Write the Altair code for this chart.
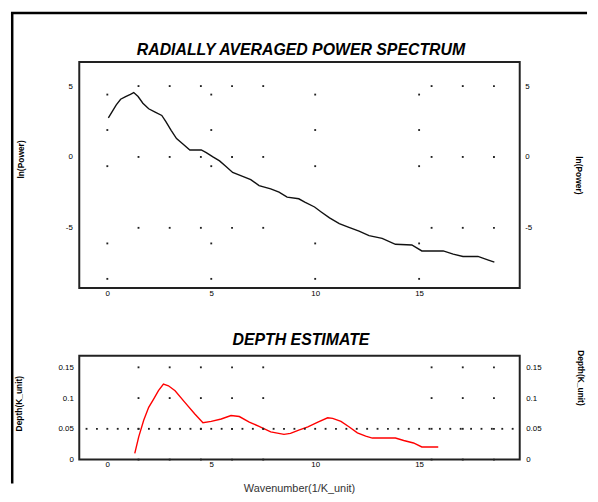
import altair as alt
import pandas as pd

FONT = "Liberation Sans"

# ---- data ----
# Radially averaged power spectrum: wavenumber vs ln(Power)
PS_K = [0.05, 0.24, 0.43, 0.64, 0.88, 1.11, 1.27, 1.48, 1.71, 1.99, 2.30, 2.62, 2.81,
        3.07, 3.33, 3.65, 3.97, 4.52, 4.76, 5.08, 5.40, 5.71, 6.03, 6.51, 6.90, 7.30,
        7.86, 8.26, 8.65, 9.21, 9.50, 9.97, 10.29, 10.69, 11.16, 11.56, 12.11, 12.59,
        13.22, 13.86, 14.65, 15.13, 16.16, 16.64, 17.11, 17.83, 18.30, 18.62]
PS_LNP = [2.75, 3.21, 3.68, 4.07, 4.26, 4.42, 4.54, 4.26, 3.79, 3.40, 3.17, 2.93, 2.51,
          1.88, 1.30, 0.89, 0.49, 0.49, 0.31, 0.00, -0.28, -0.67, -1.09, -1.37, -1.60,
          -2.02, -2.25, -2.48, -2.83, -2.95, -3.18, -3.53, -3.88, -4.30, -4.70, -4.93,
          -5.23, -5.55, -5.74, -6.16, -6.21, -6.63, -6.63, -6.86, -7.02, -7.02, -7.26, -7.42]

# Depth estimate: wavenumber vs depth
DE_K = [1.32, 1.51, 1.75, 1.99, 2.22, 2.46, 2.70, 2.94, 3.26, 3.73, 4.21, 4.60, 5.00,
        5.48, 5.95, 6.35, 6.83, 7.30, 7.86, 8.50, 8.81, 9.21, 9.65, 10.13, 10.60, 10.84,
        11.24, 11.64, 12.03, 12.43, 12.75, 13.86, 14.26, 14.73, 15.13, 15.92]
DE_D = [0.010, 0.037, 0.064, 0.085, 0.098, 0.112, 0.1226, 0.120, 0.112, 0.093, 0.074,
        0.060, 0.062, 0.066, 0.0716, 0.070, 0.061, 0.054, 0.045, 0.041, 0.0426, 0.048,
        0.053, 0.061, 0.068, 0.067, 0.062, 0.053, 0.0435, 0.038, 0.035, 0.035, 0.031,
        0.027, 0.0205, 0.0205]

# axis ticks
X_TICKS = [0, 5, 10, 15]
PS_Y_TICKS = [-5, 0, 5]
DE_Y_TICKS = [0, 0.05, 0.1, 0.15]

# scale domains
X_DOMAIN = [-1.35, 19.84]
PS_Y_DOMAIN = [-9.24, 6.70]
DE_Y_DOMAIN = [0, 0.169]

# dotted reference grid positions
GRID_ROW_X = [1.5, 3, 4.5, 6, 7.5, 15.6, 17.1, 18.6]
PS_COL_Y = [4.4, 1.9, -0.65, -6.1, -8.6]
DE_FINE_X = [-1, -0.5, 0, 0.5, 1, 1.5, 2, 2.5, 3, 3.5, 4, 4.5, 5, 5.5, 6, 6.5, 7, 7.5,
             8, 8.5, 9, 9.5, 10, 10.5, 11, 11.5, 12, 12.5, 13, 13.5, 14, 14.5, 15, 15.5,
             16, 16.5, 17, 17.5, 18, 18.5, 19, 19.5]
DE_FINE_Y = 0.05

TITLE_TOP = "RADIALLY AVERAGED POWER SPECTRUM"
TITLE_BOT = "DEPTH ESTIMATE"

# ---- tables ----
ps_df = pd.DataFrame({"k": PS_K, "lnp": PS_LNP})
de_df = pd.DataFrame({"k": DE_K, "d": DE_D})

top_dots = pd.DataFrame(
    [{"k": x, "v": y} for y in PS_Y_TICKS for x in GRID_ROW_X]
    + [{"k": x, "v": y} for x in X_TICKS for y in PS_COL_Y]
)
bot_dots = pd.DataFrame(
    [{"k": x, "v": y} for y in DE_Y_TICKS for x in GRID_ROW_X]
    + [{"k": x, "v": DE_FINE_Y} for x in DE_FINE_X]
)

xs = alt.Scale(domain=X_DOMAIN, nice=False, zero=False)
ys_top = alt.Scale(domain=PS_Y_DOMAIN, nice=False, zero=False)
ys_bot = alt.Scale(domain=DE_Y_DOMAIN, nice=False, zero=False)

LBL = dict(labelFont=FONT, labelFontSize=8, labelColor="#000", ticks=False,
           domain=False, grid=False, labelExpr="toString(datum.value)")
TTL = dict(titleFont=FONT, titleFontSize=8.5, titleFontWeight="bold", titleColor="#000",
           titleAlign="center", titleBaseline="middle")

x_axis_top = alt.Axis(values=X_TICKS, title=None, labelPadding=2, labelFlush=False, **LBL)
x_axis_bot = alt.Axis(values=X_TICKS, title="Wavenumber(1/K_unit)", labelPadding=1,
                      labelFlush=False, titleX=222, titleY=29.5, titleFont=FONT,
                      titleFontSize=11, titleFontWeight="normal", titleColor="#333",
                      titleAlign="center", titleBaseline="middle", **LBL)

top_left = alt.Axis(orient="left", values=PS_Y_TICKS, title="ln(Power)", labelPadding=7,
                    titleX=-59, titleY=98, titleAngle=270, **LBL, **TTL)
top_right = alt.Axis(orient="right", values=PS_Y_TICKS, title="ln(Power)", labelPadding=5,
                     titleX=59, titleY=114, titleAngle=90, **LBL, **TTL)
bot_left = alt.Axis(orient="left", values=DE_Y_TICKS, title="Depth(K_unit)", labelPadding=6,
                    titleX=-61, titleY=48, titleAngle=270, **LBL, **TTL)
bot_right = alt.Axis(orient="right", values=DE_Y_TICKS, title="Depth(K_unit)", labelPadding=6,
                     titleX=61, titleY=22, titleAngle=90, **LBL, **TTL)

TITLE_STYLE = dict(font=FONT, fontSize=16, fontWeight="bold", fontStyle="italic",
                   color="#000", align="center", baseline="alphabetic")

# ---- top panel ----
top_line = alt.Chart(ps_df).mark_line(color="#111", strokeWidth=1.4).encode(
    x=alt.X("k:Q", scale=xs, axis=x_axis_top),
    y=alt.Y("lnp:Q", scale=ys_top, axis=top_left),
)
top_pts = alt.Chart(top_dots).mark_square(size=3.5, color="#222", opacity=1).encode(
    x=alt.X("k:Q", scale=xs, axis=x_axis_top),
    y=alt.Y("v:Q", scale=ys_top, axis=top_right),
)
top_title = alt.Chart(ps_df).transform_aggregate(n="count()").mark_text(**TITLE_STYLE).encode(
    x=alt.value(224), y=alt.value(-6.7), text=alt.value(TITLE_TOP)
)
# outer page frame (decoration)
frame_v = alt.Chart(ps_df).transform_aggregate(n="count()").mark_rule(
    color="#000", strokeWidth=2.5).encode(
    x=alt.value(-67.75), y=alt.value(-49.5), y2=alt.value(426)
)
frame_h = alt.Chart(ps_df).transform_aggregate(n="count()").mark_rule(
    color="#000", strokeWidth=2.5).encode(
    x=alt.value(-69), x2=alt.value(513), y=alt.value(-49.5)
)

top = alt.layer(top_line, top_pts, top_title, frame_v, frame_h).resolve_axis(
    y="independent").properties(width=445, height=228.3)

# ---- bottom panel ----
bot_line = alt.Chart(de_df).mark_line(color="#ff0000", strokeWidth=1.4).encode(
    x=alt.X("k:Q", scale=xs, axis=x_axis_bot),
    y=alt.Y("d:Q", scale=ys_bot, axis=bot_left),
)
bot_pts = alt.Chart(bot_dots).mark_square(size=3.5, color="#222", opacity=1).encode(
    x=alt.X("k:Q", scale=xs, axis=x_axis_bot),
    y=alt.Y("v:Q", scale=ys_bot, axis=bot_right),
)
bot_title = alt.Chart(de_df).transform_aggregate(n="count()").mark_text(**TITLE_STYLE).encode(
    x=alt.value(224), y=alt.value(-10.7), text=alt.value(TITLE_BOT)
)
bottom = alt.layer(bot_line, bot_pts, bot_title).resolve_axis(
    y="independent").properties(width=445, height=105)

chart = alt.vconcat(top, bottom, spacing=67.7, bounds="flush").properties(
    padding=0, background="white"
).configure_view(stroke="#222", strokeWidth=2)

chart.save("out.html", embed_options={"renderer": "svg", "actions": False})
